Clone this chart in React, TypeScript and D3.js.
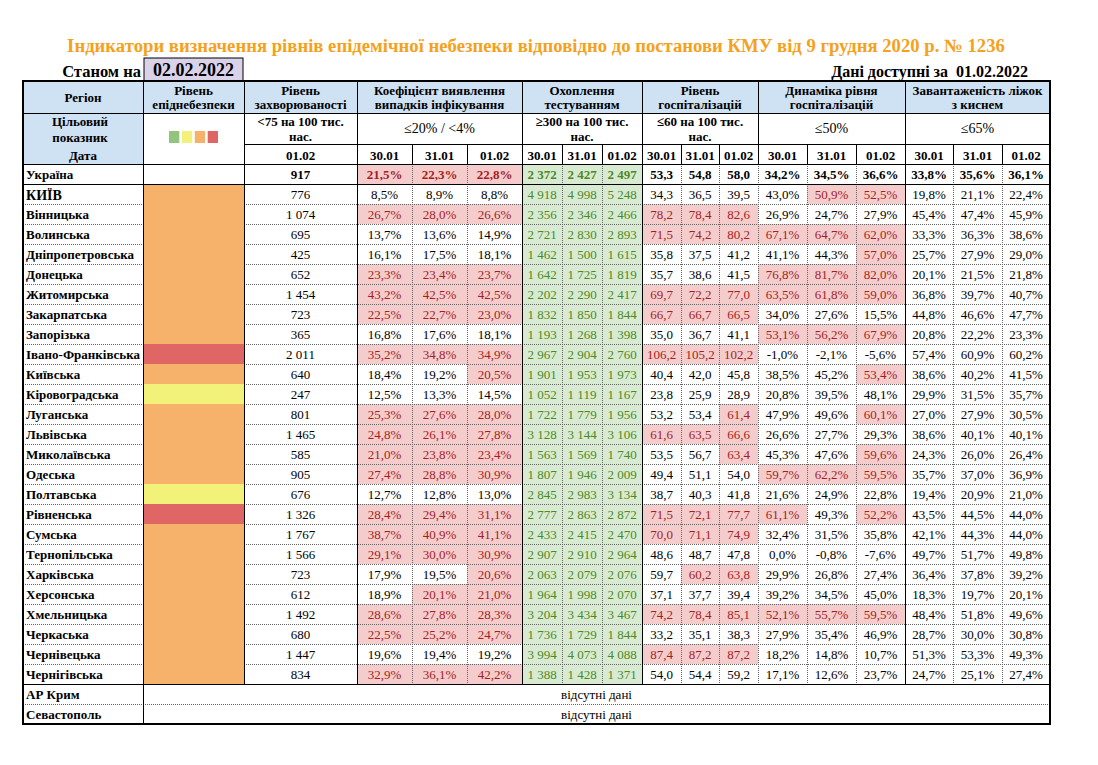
import React from "react";
import * as d3 from "d3";

// ---------------- DATA ----------------
const titleText =
  "Індикатори визначення рівнів епідемічної небезпеки відповідно до постанови КМУ від 9 грудня 2020 р. № 1236";
const asOfDate = "02.02.2022";
const dataDate = "01.02.2022";
const dates3 = ["30.01", "31.01", "01.02"];
const incidenceDate = "01.02";

const regions = [
  "КИЇВ", "Вінницька", "Волинська", "Дніпропетровська", "Донецька", "Житомирська",
  "Закарпатська", "Запорізька", "Івано-Франківська", "Київська", "Кіровоградська",
  "Луганська", "Львівська", "Миколаївська", "Одеська", "Полтавська", "Рівненська",
  "Сумська", "Тернопільська", "Харківська", "Херсонська", "Хмельницька", "Черкаська",
  "Чернівецька", "Чернігівська",
];
const missingRegions = ["АР Крим", "Севастополь"];
const missingText = "відсутні дані";

const levels = [
  "orange", "orange", "orange", "orange", "orange", "orange", "orange", "orange", "red",
  "orange", "yellow", "orange", "orange", "orange", "orange", "yellow", "red", "orange",
  "orange", "orange", "orange", "orange", "orange", "orange", "orange",
];
const legendLevels = ["green", "yellow", "orange", "red"];

const ukraineIncidence = 917;
const incidence = [
  776, 1074, 695, 425, 652, 1454, 723, 365, 2011, 640, 247, 801, 1465, 585, 905, 676,
  1326, 1767, 1566, 723, 612, 1492, 680, 1447, 834,
];

const ukraineDetection = [21.5, 22.3, 22.8];
const detection = [
  [8.5, 8.9, 8.8], [26.7, 28.0, 26.6], [13.7, 13.6, 14.9], [16.1, 17.5, 18.1],
  [23.3, 23.4, 23.7], [43.2, 42.5, 42.5], [22.5, 22.7, 23.0], [16.8, 17.6, 18.1],
  [35.2, 34.8, 34.9], [18.4, 19.2, 20.5], [12.5, 13.3, 14.5], [25.3, 27.6, 28.0],
  [24.8, 26.1, 27.8], [21.0, 23.8, 23.4], [27.4, 28.8, 30.9], [12.7, 12.8, 13.0],
  [28.4, 29.4, 31.1], [38.7, 40.9, 41.1], [29.1, 30.0, 30.9], [17.9, 19.5, 20.6],
  [18.9, 20.1, 21.0], [28.6, 27.8, 28.3], [22.5, 25.2, 24.7], [19.6, 19.4, 19.2],
  [32.9, 36.1, 42.2],
];

const ukraineTesting = [2372, 2427, 2497];
const testing = [
  [4918, 4998, 5248], [2356, 2346, 2466], [2721, 2830, 2893], [1462, 1500, 1615],
  [1642, 1725, 1819], [2202, 2290, 2417], [1832, 1850, 1844], [1193, 1268, 1398],
  [2967, 2904, 2760], [1901, 1953, 1973], [1052, 1119, 1167], [1722, 1779, 1956],
  [3128, 3144, 3106], [1563, 1569, 1740], [1807, 1946, 2009], [2845, 2983, 3134],
  [2777, 2863, 2872], [2433, 2415, 2470], [2907, 2910, 2964], [2063, 2079, 2076],
  [1964, 1998, 2070], [3204, 3434, 3467], [1736, 1729, 1844], [3994, 4073, 4088],
  [1388, 1428, 1371],
];

const ukraineHosp = [53.3, 54.8, 58.0];
const hospitalization = [
  [34.3, 36.5, 39.5], [78.2, 78.4, 82.6], [71.5, 74.2, 80.2], [35.8, 37.5, 41.2],
  [35.7, 38.6, 41.5], [69.7, 72.2, 77.0], [66.7, 66.7, 66.5], [35.0, 36.7, 41.1],
  [106.2, 105.2, 102.2], [40.4, 42.0, 45.8], [23.8, 25.9, 28.9], [53.2, 53.4, 61.4],
  [61.6, 63.5, 66.6], [53.5, 56.7, 63.4], [49.4, 51.1, 54.0], [38.7, 40.3, 41.8],
  [71.5, 72.1, 77.7], [70.0, 71.1, 74.9], [48.6, 48.7, 47.8], [59.7, 60.2, 63.8],
  [37.1, 37.7, 39.4], [74.2, 78.4, 85.1], [33.2, 35.1, 38.3], [87.4, 87.2, 87.2],
  [54.0, 54.4, 59.2],
];

const ukraineDynamics = [34.2, 34.5, 36.6];
const dynamics = [
  [43.0, 50.9, 52.5], [26.9, 24.7, 27.9], [67.1, 64.7, 62.0], [41.1, 44.3, 57.0],
  [76.8, 81.7, 82.0], [63.5, 61.8, 59.0], [34.0, 27.6, 15.5], [53.1, 56.2, 67.9],
  [-1.0, -2.1, -5.6], [38.5, 45.2, 53.4], [20.8, 39.5, 48.1], [47.9, 49.6, 60.1],
  [26.6, 27.7, 29.3], [45.3, 47.6, 59.6], [59.7, 62.2, 59.5], [21.6, 24.9, 22.8],
  [61.1, 49.3, 52.2], [32.4, 31.5, 35.8], [0.0, -0.8, -7.6], [29.9, 26.8, 27.4],
  [39.2, 34.5, 45.0], [52.1, 55.7, 59.5], [27.9, 35.4, 46.9], [18.2, 14.8, 10.7],
  [17.1, 12.6, 23.7],
];

const ukraineBeds = [33.8, 35.6, 36.1];
const beds = [
  [19.8, 21.1, 22.4], [45.4, 47.4, 45.9], [33.3, 36.3, 38.6], [25.7, 27.9, 29.0],
  [20.1, 21.5, 21.8], [36.8, 39.7, 40.7], [44.8, 46.6, 47.7], [20.8, 22.2, 23.3],
  [57.4, 60.9, 60.2], [38.6, 40.2, 41.5], [29.9, 31.5, 35.7], [27.0, 27.9, 30.5],
  [38.6, 40.1, 40.1], [24.3, 26.0, 26.4], [35.7, 37.0, 36.9], [19.4, 20.9, 21.0],
  [43.5, 44.5, 44.0], [42.1, 44.3, 44.0], [49.7, 51.7, 49.8], [36.4, 37.8, 39.2],
  [18.3, 19.7, 20.1], [48.4, 51.8, 49.6], [28.7, 30.0, 30.8], [51.3, 53.3, 49.3],
  [24.7, 25.1, 27.4],
];

const headRegion = "Регіон";
const headLevel = ["Рівень", "епіднебезпеки"];
const headIncidence = ["Рівень", "захворюваності"];
const targetIncidence = ["<75 на 100 тис.", "нас."];
const targetLabel = ["Цільовий", "показник"];
const dateLabel = "Дата";

// ---------------- STYLE / LAYOUT ----------------
const FONT = "Liberation Serif, Times New Roman, serif";
const C = {
  title: "#f5a11c",
  headBlue: "#cfe2f3",
  lavender: "#d9d2e9",
  pink: "#f4cccc",
  pinkText: "#a51d1d",
  green: "#d9ead3",
  greenText: "#4b8a24",
  levels: { green: "#93c47d", yellow: "#f2f27a", orange: "#f6b26b", red: "#e06666" } as Record<string, string>,
};

const fmt = d3.formatLocale({ decimal: ",", thousands: " ", grouping: [3], currency: ["", ""], minus: "-" });
const fInt = fmt.format(",d");
const f1 = fmt.format(".1f");
const fPct = (v: number) => f1(v) + "%";

type Group = {
  title: string[];
  target: string[];
  targetBold: boolean;
  ukraine: number[];
  values: number[][];
  format: (v: number) => string;
  highlight: (v: number) => "pink" | "green" | null;
  edges: number[];
};

const groups: Group[] = [
  {
    title: ["Коефіцієнт виявлення", "випадків інфікування"], target: ["≤20% / <4%"], targetBold: false,
    ukraine: ukraineDetection, values: detection, format: fPct,
    highlight: (v) => (v > 20 ? "pink" : null), edges: [357, 412, 467, 522],
  },
  {
    title: ["Охоплення", "тестуванням"], target: ["≥300 на 100 тис.", "нас."], targetBold: true,
    ukraine: ukraineTesting, values: testing, format: fInt,
    highlight: (v) => (v >= 300 ? "green" : null), edges: [522, 562, 602, 642],
  },
  {
    title: ["Рівень", "госпіталізацій"], target: ["≤60 на 100 тис.", "нас."], targetBold: true,
    ukraine: ukraineHosp, values: hospitalization, format: f1,
    highlight: (v) => (v > 60 ? "pink" : null), edges: [642, 681, 719, 758],
  },
  {
    title: ["Динаміка рівня", "госпіталізацій"], target: ["≤50%"], targetBold: false,
    ukraine: ukraineDynamics, values: dynamics, format: fPct,
    highlight: (v) => (v > 50 ? "pink" : null), edges: [758, 807, 856, 905],
  },
  {
    title: ["Завантаженість ліжок", "з киснем"], target: ["≤65%"], targetBold: false,
    ukraine: ukraineBeds, values: beds, format: fPct,
    highlight: (v) => (v > 65 ? "pink" : null), edges: [905, 953, 1002, 1050],
  },
];

const X0 = 23, X1 = 143, X2 = 244, X3 = 357, XR = 1050;
const Y_TOP = 81, Y_H1 = 113, Y_H2 = 144, Y_H3 = 164, Y_BOT = 724;

const rowKeys = ["Україна", ...regions, ...missingRegions];
const y = d3.scaleBand<string>().domain(rowKeys).range([Y_H3, Y_BOT]);
const RH = y.bandwidth();
const yRegionsEnd = (y(regions[regions.length - 1]) as number) + RH;

export default function App() {
  const lines: React.ReactNode[] = [];
  const solid = { stroke: "#000", strokeWidth: 1 };
  const dotted = { stroke: "#666", strokeWidth: 1, strokeDasharray: "1,1" };
  let k = 0;
  const L = (x1: number, y1: number, x2: number, y2: number, s: any) =>
    lines.push(<line key={"l" + k++} x1={x1} y1={y1} x2={x2} y2={y2} {...s} shapeRendering="crispEdges" />);

  regions.forEach((r, i) => {
    if (i === 0) return;
    const yy = y(r) as number;
    L(X0, yy, X1, yy, dotted);
    L(X2, yy, XR, yy, dotted);
  });
  const yCrimea = y(missingRegions[1]) as number;
  L(X0, yCrimea, XR, yCrimea, dotted);

  groups.forEach((g) => {
    g.edges.slice(1, 3).forEach((ex) => {
      L(ex, Y_H2, ex, Y_H3, solid);
      L(ex, Y_H3, ex, yRegionsEnd, dotted);
    });
  });
  [X3, 522, 642, 905].forEach((ex) => L(ex, Y_TOP, ex, yRegionsEnd, solid));
  L(758, Y_TOP, 758, Y_H3, solid);
  L(758, Y_H3, 758, yRegionsEnd, dotted);
  L(X2, Y_TOP, X2, yRegionsEnd, solid);
  L(X1, Y_TOP, X1, Y_BOT, solid);
  L(X0, Y_H1, XR, Y_H1, solid);
  L(X2, Y_H2, XR, Y_H2, solid);
  L(X0, Y_H3, XR, Y_H3, solid);
  const yUkrEnd = (y("Україна") as number) + RH;
  L(X0, yUkrEnd, XR, yUkrEnd, solid);
  L(X0, yRegionsEnd, XR, yRegionsEnd, solid);

  const txt = (
    x: number, yy: number, s: string,
    opts: { bold?: boolean; size?: number; anchor?: string; fill?: string; dy?: string } = {}
  ) => (
    <text
      key={"t" + k++}
      x={x}
      y={yy}
      dy={opts.dy || "0.35em"}
      textAnchor={opts.anchor || "middle"}
      fontFamily={FONT}
      fontSize={opts.size || 13}
      fontWeight={opts.bold ? "bold" : "normal"}
      fill={opts.fill || "#000"}
    >
      {s}
    </text>
  );
  const BODY_DY = "0.42em";

  const cells: React.ReactNode[] = [];
  const texts: React.ReactNode[] = [];

  cells.push(<rect key="hb1" x={X0} y={Y_TOP} width={XR - X0} height={Y_H1 - Y_TOP} fill={C.headBlue} />);
  cells.push(<rect key="hb2" x={X0} y={Y_H1} width={X1 - X0} height={Y_H3 - Y_H1} fill={C.headBlue} />);

  const hs = 13;
  texts.push(txt((X0 + X1) / 2, 97, headRegion, { bold: true, size: hs }));
  texts.push(txt((X1 + X2) / 2, 90, headLevel[0], { bold: true, size: hs }));
  texts.push(txt((X1 + X2) / 2, 104, headLevel[1], { bold: true, size: hs }));
  texts.push(txt((X2 + X3) / 2, 90, headIncidence[0], { bold: true, size: hs }));
  texts.push(txt((X2 + X3) / 2, 104, headIncidence[1], { bold: true, size: hs }));
  texts.push(txt(80, 121, targetLabel[0], { bold: true, size: hs }));
  texts.push(txt(80, 137, targetLabel[1], { bold: true, size: hs }));
  texts.push(txt(83, 155, dateLabel, { bold: true, size: hs }));
  texts.push(txt((X2 + X3) / 2, 121, targetIncidence[0], { bold: true, size: hs }));
  texts.push(txt((X2 + X3) / 2, 136, targetIncidence[1], { bold: true, size: hs }));
  texts.push(txt((X2 + X3) / 2, 155, incidenceDate, { bold: true, size: hs }));

  const lx = d3.scaleBand<string>().domain(legendLevels).range([169, 218]).paddingInner(0.2);
  legendLevels.forEach((l) =>
    cells.push(<rect key={"lg" + l} x={lx(l)} y={131} width={lx.bandwidth()} height={12} fill={C.levels[l]} />)
  );

  groups.forEach((g, gi) => {
    const cx = (g.edges[0] + g.edges[3]) / 2;
    texts.push(txt(cx, 90, g.title[0], { bold: true, size: hs }));
    texts.push(txt(cx, 104, g.title[1], { bold: true, size: hs }));
    if (g.target.length === 2) {
      texts.push(txt(cx, 121, g.target[0], { bold: g.targetBold, size: hs }));
      texts.push(txt(cx, 136, g.target[1], { bold: g.targetBold, size: hs }));
    } else {
      texts.push(txt(cx, 128.5, g.target[0], { bold: g.targetBold, size: 14 }));
    }
    dates3.forEach((d, di) =>
      texts.push(txt((g.edges[di] + g.edges[di + 1]) / 2, 155, d, { bold: true, size: hs }))
    );
    const allRows = [g.ukraine, ...g.values];
    allRows.forEach((vals, ri) => {
      const key = rowKeys[ri];
      const yy = y(key) as number;
      vals.forEach((v, di) => {
        const xa = g.edges[di], xb = g.edges[di + 1];
        const h = g.highlight(v);
        if (h) {
          cells.push(
            <rect key={`c${gi}-${ri}-${di}`} x={xa} y={yy} width={xb - xa} height={RH} fill={h === "pink" ? C.pink : C.green} />
          );
        }
        texts.push(
          txt((xa + xb) / 2, yy + RH / 2, g.format(v), {
            bold: ri === 0,
            size: 13,
            dy: BODY_DY,
            fill: h === "pink" ? C.pinkText : h === "green" ? C.greenText : "#000",
          })
        );
      });
    });
  });

  const yU = y("Україна") as number;
  texts.push(txt(26, yU + RH / 2, "Україна", { bold: true, anchor: "start", dy: BODY_DY }));
  texts.push(txt((X2 + X3) / 2, yU + RH / 2, fInt(ukraineIncidence), { bold: true, dy: BODY_DY }));

  regions.forEach((r, i) => {
    const yy = y(r) as number;
    cells.push(<rect key={"lv" + i} x={X1} y={yy} width={X2 - X1} height={RH} fill={C.levels[levels[i]]} />);
    texts.push(txt(26, yy + RH / 2, r, { bold: true, anchor: "start", size: i === 0 ? 14 : 13, dy: BODY_DY }));
    texts.push(txt((X2 + X3) / 2, yy + RH / 2, fInt(incidence[i]), { dy: BODY_DY }));
  });

  missingRegions.forEach((r) => {
    const yy = y(r) as number;
    texts.push(txt(26, yy + RH / 2, r, { bold: true, anchor: "start", dy: BODY_DY }));
    texts.push(txt((X1 + XR) / 2, yy + RH / 2, missingText, { dy: BODY_DY }));
  });

  return (
    <svg width={1098} height={765} style={{ position: "absolute", left: 0, top: 0, background: "#fff" }}>
      <rect x={0} y={0} width={1098} height={765} fill="#fff" />
      <text x={536} y={45} dy="0.35em" textAnchor="middle" fontFamily={FONT} fontSize={18.7} fontWeight="bold" fill={C.title}>
        {titleText}
      </text>
      <text x={141} y={71} dy="0.35em" textAnchor="end" fontFamily={FONT} fontSize={16.5} fontWeight="bold">
        Станом на
      </text>
      <rect x={144} y={58} width={99} height={23} fill={C.lavender} stroke="#000" strokeWidth={1} />
      <text x={193.5} y={70} dy="0.35em" textAnchor="middle" fontFamily={FONT} fontSize={18} fontWeight="bold">
        {asOfDate}
      </text>
      <text x={1028} y={71} dy="0.35em" textAnchor="end" fontFamily={FONT} fontSize={16} fontWeight="bold" style={{ whiteSpace: "pre" }}>
        {"Дані доступні за  " + dataDate}
      </text>
      {cells}
      {lines}
      <rect x={X0} y={Y_TOP} width={XR - X0} height={Y_BOT - Y_TOP} fill="none" stroke="#000" strokeWidth={1.3} shapeRendering="crispEdges" />
      {texts}
    </svg>
  );
}
